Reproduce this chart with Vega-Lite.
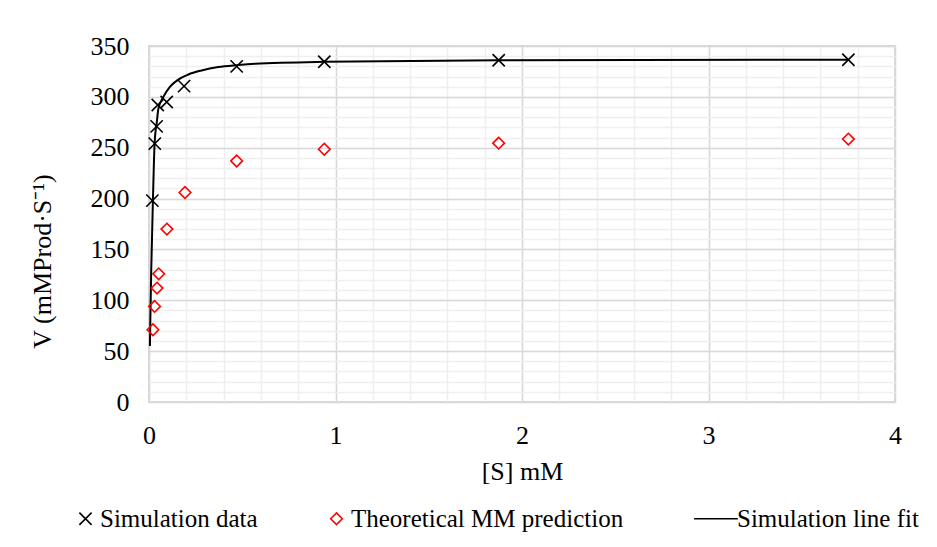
{
  "$schema": "https://vega.github.io/schema/vega-lite/v6.json",
  "autosize": "none",
  "width": 746,
  "height": 356,
  "padding": {"left": 149, "top": 46, "right": 42, "bottom": 145},
  "background": "white",
  "config": {
    "font": "Liberation Serif",
    "view": {"stroke": "#bfbfbf", "strokeWidth": 1.5},
    "axis": {
      "labelFont": "Liberation Serif", "titleFont": "Liberation Serif",
      "labelFontSize": 26, "titleFontSize": 26, "labelColor": "#000", "titleColor": "#000",
      "titleFontWeight": "normal", "ticks": false, "domain": false
    },
    "legend": {"labelFont": "Liberation Serif", "labelFontSize": 25, "labelColor": "#000", "labelLimit": 0}
  },
  "datasets": {
    "fit": [
      {"S": 0.005, "V": 55, "series": "Simulation line fit"},
      {"S": 0.007, "V": 80, "series": "Simulation line fit"},
      {"S": 0.012, "V": 130, "series": "Simulation line fit"},
      {"S": 0.021, "V": 198, "series": "Simulation line fit"},
      {"S": 0.03, "V": 254, "series": "Simulation line fit"},
      {"S": 0.043, "V": 277, "series": "Simulation line fit"},
      {"S": 0.05, "V": 288, "series": "Simulation line fit"},
      {"S": 0.077, "V": 300, "series": "Simulation line fit"},
      {"S": 0.113, "V": 310, "series": "Simulation line fit"},
      {"S": 0.157, "V": 317, "series": "Simulation line fit"},
      {"S": 0.211, "V": 322, "series": "Simulation line fit"},
      {"S": 0.282, "V": 326, "series": "Simulation line fit"},
      {"S": 0.371, "V": 329.4, "series": "Simulation line fit"},
      {"S": 0.479, "V": 331.3, "series": "Simulation line fit"},
      {"S": 0.568, "V": 332.5, "series": "Simulation line fit"},
      {"S": 0.94, "V": 334.5, "series": "Simulation line fit"},
      {"S": 1.875, "V": 336, "series": "Simulation line fit"},
      {"S": 3.75, "V": 336.6, "series": "Simulation line fit"}
    ],
    "pts": [
      {"S": 0.018, "V": 198, "series": "Simulation data"},
      {"S": 0.031, "V": 254, "series": "Simulation data"},
      {"S": 0.041, "V": 271, "series": "Simulation data"},
      {"S": 0.047, "V": 292, "series": "Simulation data"},
      {"S": 0.095, "V": 295, "series": "Simulation data"},
      {"S": 0.188, "V": 310.5, "series": "Simulation data"},
      {"S": 0.47, "V": 330, "series": "Simulation data"},
      {"S": 0.94, "V": 334.5, "series": "Simulation data"},
      {"S": 1.875, "V": 336, "series": "Simulation data"},
      {"S": 3.75, "V": 336.5, "series": "Simulation data"},
      {"S": 0.021, "V": 71, "series": "Theoretical MM prediction"},
      {"S": 0.03, "V": 94, "series": "Theoretical MM prediction"},
      {"S": 0.043, "V": 112, "series": "Theoretical MM prediction"},
      {"S": 0.052, "V": 126, "series": "Theoretical MM prediction"},
      {"S": 0.096, "V": 170, "series": "Theoretical MM prediction"},
      {"S": 0.193, "V": 206, "series": "Theoretical MM prediction"},
      {"S": 0.47, "V": 237, "series": "Theoretical MM prediction"},
      {"S": 0.94, "V": 248.5, "series": "Theoretical MM prediction"},
      {"S": 1.875, "V": 254.5, "series": "Theoretical MM prediction"},
      {"S": 3.75, "V": 258.5, "series": "Theoretical MM prediction"}
    ]
  },
  "resolve": {"axis": {"x": "independent", "y": "independent"}},
  "layer": [
    {
      "data": {"name": "fit"},
      "mark": {"type": "line", "strokeWidth": 2, "interpolate": "monotone"},
      "encoding": {
        "x": {"field": "S", "type": "quantitative",
              "scale": {"domain": [0, 4], "nice": false},
              "axis": {"orient": "top", "values": [0,0.2,0.4,0.6,0.8,1,1.2,1.4,1.6,1.8,2,2.2,2.4,2.6,2.8,3,3.2,3.4,3.6,3.8,4],
                       "labels": false, "title": null, "grid": true, "gridColor": "#efefef", "gridWidth": 1.5}},
        "y": {"field": "V", "type": "quantitative",
              "scale": {"domain": [0, 350], "nice": false},
              "axis": {"orient": "right", "values": [0,10,20,30,40,50,60,70,80,90,100,110,120,130,140,150,160,170,180,190,200,210,220,230,240,250,260,270,280,290,300,310,320,330,340,350],
                       "labels": false, "title": null, "grid": true, "gridColor": "#efefef", "gridWidth": 1.5}},
        "color": {"field": "series", "type": "nominal",
                  "scale": {"domain": ["Simulation data", "Theoretical MM prediction", "Simulation line fit"], "range": ["#000000", "#ff0000", "#000000"]}}
      }
    },
    {
      "data": {"name": "pts"},
      "mark": {"type": "point", "filled": false, "strokeWidth": 1.6, "opacity": 1},
      "encoding": {
        "x": {"field": "S", "type": "quantitative",
              "axis": {"orient": "bottom", "values": [0,1,2,3,4], "title": "[S] mM", "labelPadding": 20, "titlePadding": 10,
                       "grid": true, "gridColor": "#d9d9d9", "gridWidth": 1.5, "labelFlush": false}},
        "y": {"field": "V", "type": "quantitative",
              "axis": {"orient": "left", "values": [0,50,100,150,200,250,300,350], "title": "V (mMProd·S⁻¹)", "labelPadding": 20, "titlePadding": 35, "titleY": 215,
                       "grid": true, "gridColor": "#d9d9d9", "gridWidth": 1.5}},
        "color": {"field": "series", "type": "nominal",
                  "legend": {"title": null, "orient": "none", "legendX": -76, "legendY": 460, "direction": "horizontal", "symbolSize": 144, "symbolStrokeWidth": 1.6, "columnPadding": 66, "labelOffset": 2}},
        "shape": {"field": "series", "type": "nominal",
                  "scale": {"domain": ["Simulation data", "Theoretical MM prediction", "Simulation line fit"], "range": ["M-1,-1L1,1M-1,1L1,-1", "diamond", "M-5.2,0L2.8,0"]},
                  "legend": {"title": null}},
        "size": {"field": "series", "type": "nominal",
                 "scale": {"domain": ["Simulation data", "Theoretical MM prediction", "Simulation line fit"], "range": [150, 120, 144]},
                 "legend": null}
      }
    }
  ]
}
